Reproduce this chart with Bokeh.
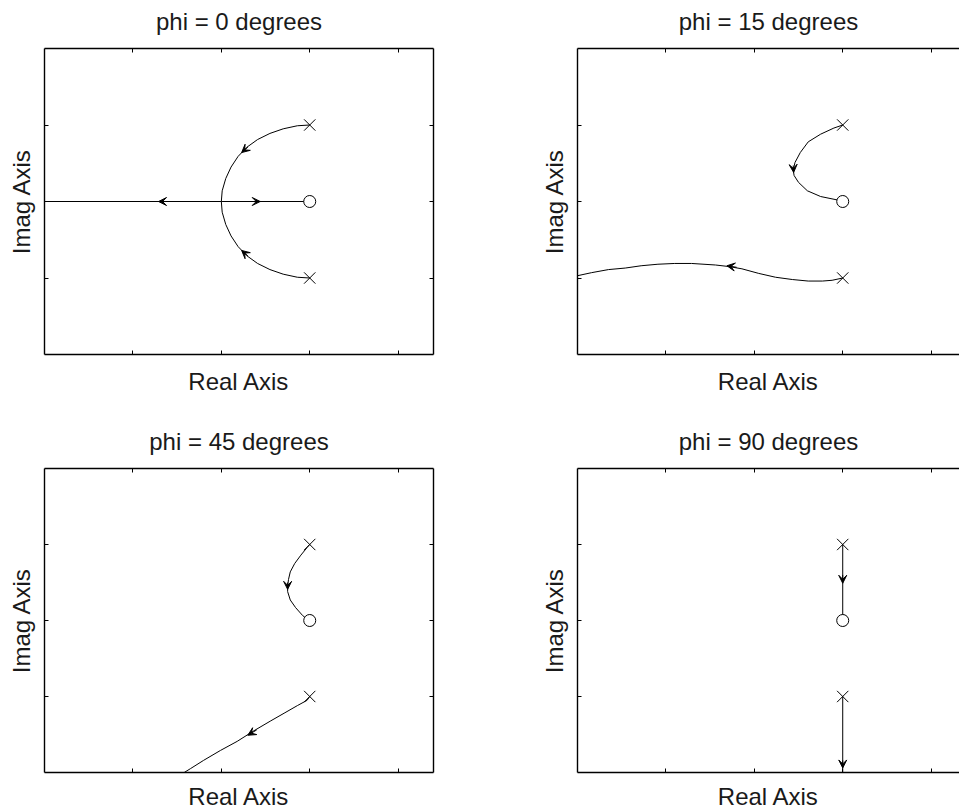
from bokeh.embed import file_html
from bokeh.layouts import column, row
from bokeh.models import Arrow, FixedTicker, LinearAxis, Range1d, VeeHead
from bokeh.plotting import figure
from bokeh.resources import INLINE

# ---------------------------------------------------------------------------
# Open-loop poles and zero (same for every phase angle)
poles_re = [0.0, 0.0]
poles_im = [1.0, -1.0]
zeros_re = [0.0]
zeros_im = [0.0]

# Axis limits and tick positions (ticks only, no tick labels)
x_limits = [-3.0, 1.4]
y_limits = [-2.0, 2.0]
x_ticks = [-2, -1, 0, 1]
y_ticks = [-1, 0, 1]

panel_titles = ["phi = 0 degrees", "phi = 15 degrees", "phi = 45 degrees", "phi = 90 degrees"]

# --- phi = 0: circle around the zero, then the real-axis branches
phi0_upper_re = [0.0, -0.14, -0.30, -0.45, -0.59, -0.71, -0.81, -0.89, -0.95, -0.99, -1.0]
phi0_upper_im = [1.0, 0.99, 0.95, 0.89, 0.81, 0.71, 0.59, 0.45, 0.30, 0.14, 0.0]
phi0_lower_re = [0.0, -0.14, -0.30, -0.45, -0.59, -0.71, -0.81, -0.89, -0.95, -0.99, -1.0]
phi0_lower_im = [-1.0, -0.99, -0.95, -0.89, -0.81, -0.71, -0.59, -0.45, -0.30, -0.14, 0.0]
phi0_to_zero_re = [-1.0, 0.0]
phi0_to_zero_im = [0.0, 0.0]
phi0_to_inf_re = [-1.0, -3.0]
phi0_to_inf_im = [0.0, 0.0]

# --- phi = 15
phi15_upper_re = [0.0, -0.10, -0.25, -0.39, -0.48, -0.54, -0.56, -0.55, -0.50, -0.40, -0.25, -0.06, 0.0]
phi15_upper_im = [1.0, 0.96, 0.88, 0.78, 0.64, 0.51, 0.41, 0.34, 0.25, 0.14, 0.065, 0.02, 0.0]
phi15_lower_re = [0.0, -0.12, -0.23, -0.39, -0.57, -0.76, -0.95, -1.14, -1.29, -1.44, -1.71,
                  -1.90, -2.09, -2.28, -2.46, -2.65, -2.84, -3.0]
phi15_lower_im = [-1.0, -1.03, -1.04, -1.04, -1.02, -0.99, -0.94, -0.88, -0.85, -0.83, -0.81,
                  -0.81, -0.82, -0.84, -0.87, -0.89, -0.93, -0.97]

# --- phi = 45
phi45_upper_re = [0.0, -0.03, -0.10, -0.17, -0.22, -0.24, -0.25, -0.25, -0.22, -0.16, -0.08, -0.03, 0.0]
phi45_upper_im = [1.0, 0.96, 0.86, 0.75, 0.64, 0.54, 0.45, 0.38, 0.27, 0.17, 0.065, 0.02, 0.0]
phi45_lower_re = [0.0, -0.03, -0.14, -0.29, -0.44, -0.63, -0.82, -1.01, -1.20, -1.35, -1.42]
phi45_lower_im = [-1.0, -1.05, -1.12, -1.22, -1.32, -1.45, -1.59, -1.71, -1.84, -1.95, -2.0]

# --- phi = 90
phi90_upper_re = [0.0, 0.0]
phi90_upper_im = [1.0, 0.0]
phi90_lower_re = [0.0, 0.0]
phi90_lower_im = [-1.0, -2.0]

# Direction arrows along each branch: tail -> tip
phi0_arrow_x0 = [-0.70, -0.70, -0.66, -1.61]
phi0_arrow_y0 = [0.71, -0.71, 0.0, 0.0]
phi0_arrow_x1 = [-0.77, -0.77, -0.56, -1.71]
phi0_arrow_y1 = [0.64, -0.64, 0.0, 0.0]

phi15_arrow_x0 = [-0.56, -1.20]
phi15_arrow_y0 = [0.47, -0.86]
phi15_arrow_x1 = [-0.555, -1.31]
phi15_arrow_y1 = [0.38, -0.84]

phi45_arrow_x0 = [-0.25, -0.60]
phi45_arrow_y0 = [0.50, -1.44]
phi45_arrow_x1 = [-0.25, -0.70]
phi45_arrow_y1 = [0.41, -1.51]

phi90_arrow_x0 = [0.0, 0.0]
phi90_arrow_y0 = [0.60, -1.84]
phi90_arrow_x1 = [0.0, 0.0]
phi90_arrow_y1 = [0.49, -1.94]

# ---------------------------------------------------------------------------
FONT = "Liberation Sans"
FONT_SIZE = "24px"
TEXT_COLOR = "#1a1a1a"

BORDER_LEFT = 44
BORDER_TOP = 48
FRAME_H = 306
FULL_FRAME_W = 389  # width of a complete (uncut) axes box in pixels


def box_axis(ticks, label=None, standoff=0):
    # Only minor ticks are used, so the box edges carry inward tick marks without labels
    ax = LinearAxis(ticker=FixedTicker(ticks=[], minor_ticks=ticks))
    ax.major_tick_line_color = None
    ax.minor_tick_in = 4
    ax.minor_tick_out = 0
    ax.minor_tick_line_color = "black"
    ax.minor_tick_line_width = 1
    ax.axis_line_color = "black"
    ax.axis_line_width = 1.4
    ax.major_label_standoff = 0
    if label:
        ax.axis_label = label
        ax.axis_label_standoff = standoff
        ax.axis_label_text_font = FONT
        ax.axis_label_text_font_size = FONT_SIZE
        ax.axis_label_text_font_style = "normal"
        ax.axis_label_text_color = TEXT_COLOR
    return ax


def make_panel(title, branches, arrows, width, border_right, height, border_bottom,
               right_box, xlabel_standoff):
    frame_w = width - BORDER_LEFT - border_right
    px_per_unit = FULL_FRAME_W / (x_limits[1] - x_limits[0])
    x_end = x_limits[0] + frame_w / px_per_unit

    p = figure(width=width, height=height, output_backend="svg", toolbar_location=None,
               x_range=Range1d(x_limits[0], x_end), y_range=Range1d(*y_limits),
               x_axis_type=None, y_axis_type=None,
               min_border_left=BORDER_LEFT, min_border_right=border_right,
               min_border_top=BORDER_TOP, min_border_bottom=border_bottom)
    p.outline_line_color = None
    p.background_fill_color = "white"
    p.border_fill_color = "white"
    p.grid.visible = False

    # The panel heading is carried by the top axis of the box
    p.add_layout(box_axis(x_ticks, "Real Axis", xlabel_standoff), "below")
    p.add_layout(box_axis(y_ticks, "Imag Axis", 10), "left")
    p.add_layout(box_axis(x_ticks, title, 14), "above")
    if right_box:
        p.add_layout(box_axis(y_ticks), "right")

    for re_vals, im_vals in branches:
        p.line(re_vals, im_vals, line_color="black", line_width=1)

    x0s, y0s, x1s, y1s = arrows
    for xa, ya, xb, yb in zip(x0s, y0s, x1s, y1s):
        p.add_layout(Arrow(end=VeeHead(size=8, fill_color="black", line_color="black", line_width=1),
                           x_start=xa, y_start=ya, x_end=xb, y_end=yb,
                           line_color="black", line_width=1))

    p.scatter(poles_re, poles_im, marker="x", size=16, line_color="black", line_width=1)
    p.scatter(zeros_re, zeros_im, marker="circle", size=12, line_color="black",
              fill_color="white", line_width=1)
    return p


LEFT_W = 533
RIGHT_W = 959 - LEFT_W
TOP_H = 420
BOTTOM_H = 812 - TOP_H
LEFT_BORDER_RIGHT = LEFT_W - BORDER_LEFT - FULL_FRAME_W

p0 = make_panel(panel_titles[0],
                [(phi0_upper_re, phi0_upper_im), (phi0_lower_re, phi0_lower_im),
                 (phi0_to_zero_re, phi0_to_zero_im), (phi0_to_inf_re, phi0_to_inf_im)],
                (phi0_arrow_x0, phi0_arrow_y0, phi0_arrow_x1, phi0_arrow_y1),
                LEFT_W, LEFT_BORDER_RIGHT, TOP_H, TOP_H - BORDER_TOP - FRAME_H, True, 13)
p15 = make_panel(panel_titles[1],
                 [(phi15_upper_re, phi15_upper_im), (phi15_lower_re, phi15_lower_im)],
                 (phi15_arrow_x0, phi15_arrow_y0, phi15_arrow_x1, phi15_arrow_y1),
                 RIGHT_W, 0, TOP_H, TOP_H - BORDER_TOP - FRAME_H, False, 13)
p45 = make_panel(panel_titles[2],
                 [(phi45_upper_re, phi45_upper_im), (phi45_lower_re, phi45_lower_im)],
                 (phi45_arrow_x0, phi45_arrow_y0, phi45_arrow_x1, phi45_arrow_y1),
                 LEFT_W, LEFT_BORDER_RIGHT, BOTTOM_H, BOTTOM_H - BORDER_TOP - FRAME_H, True, 10)
p90 = make_panel(panel_titles[3],
                 [(phi90_upper_re, phi90_upper_im), (phi90_lower_re, phi90_lower_im)],
                 (phi90_arrow_x0, phi90_arrow_y0, phi90_arrow_x1, phi90_arrow_y1),
                 RIGHT_W, 0, BOTTOM_H, BOTTOM_H - BORDER_TOP - FRAME_H, False, 10)

layout = column(row(p0, p15), row(p45, p90))

with open("out.html", "w") as f:
    f.write(file_html(layout, INLINE))
